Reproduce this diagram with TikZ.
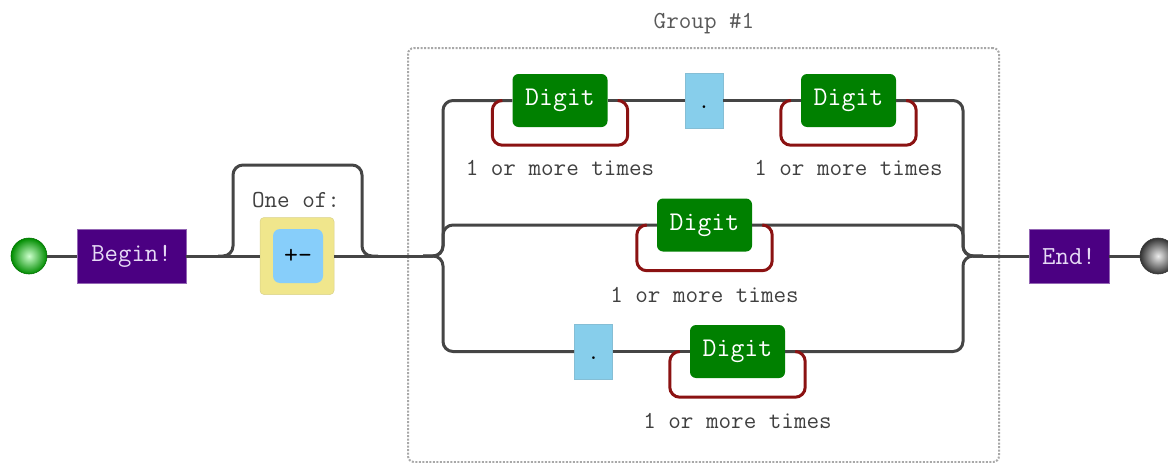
\documentclass[tikz,border=0pt]{standalone}
\usepackage{fontspec}
\usetikzlibrary{positioning, calc}
\definecolor{railgray}{HTML}{454545}
\definecolor{anchorpurple}{HTML}{4B0082}
\definecolor{anchortext}{HTML}{E6DAF5}
\definecolor{digitgreen}{HTML}{008000}
\definecolor{loopred}{HTML}{8B1212}
\definecolor{litblue}{HTML}{87CEEB}
\definecolor{clsyellow}{HTML}{F0E68C}
\definecolor{clsblue}{HTML}{87CEFA}
\definecolor{framegray}{HTML}{A8A8A8}

\begin{document}
\begin{tikzpicture}[
    x=1pt, y=-1pt,
    rail/.style={line width=3pt, draw=railgray, rounded corners=10pt},
    repeatloop/.style={line width=3pt, draw=loopred, rounded corners=10pt},
    anchorbox/.style={rectangle, fill=anchorpurple, draw=anchorpurple!60!white, line width=0.6pt, inner sep=0pt, minimum height=54pt, text=anchortext, font=\ttfamily\fontsize{26}{30}\selectfont},
    digitbox/.style={rectangle, rounded corners=6pt, fill=digitgreen, inner sep=0pt, minimum width=95pt, minimum height=53pt, text=white, font=\ttfamily\fontsize{27}{30}\selectfont},
    litbox/.style={rectangle, fill=litblue, draw=litblue!80!gray, line width=0.6pt, inner sep=0pt, minimum width=38pt, minimum height=55pt, text height=16pt, text depth=0pt, font=\ttfamily\fontsize{24}{28}\selectfont},
    lbl/.style={text=black!75, font=\ttfamily\fontsize{24.4}{28}\selectfont},
    ball/.style={circle, minimum size=36pt, inner sep=0pt, shading=radial, line width=0.6pt}
]
\useasboundingbox (0,0) rectangle (1168,463);

% group frame
\node[rectangle, draw=framegray, line width=2pt, dash pattern=on 2pt off 1.5pt, rounded corners=6pt, minimum width=591pt, minimum height=414pt] (grp) at (703.5,255) {};
\node[lbl, text=black!65] at (704,24) {Group \#1};

% ends
\node[ball, draw=green!45!black, inner color=green!20!white, outer color=green!55!black] (start) at (29,256) {};
\node[anchorbox, minimum width=109pt] (begin) at (131.5,256) {Begin!};
\node[anchorbox, minimum width=80pt] (end) at (1069,256) {End!};
\node[ball, draw=black!80, inner color=white!85!gray, outer color=black!80] (stop) at (1158,256) {};

% one of [+-]
\node[rectangle, rounded corners=4pt, fill=clsyellow, draw=clsyellow!80!gray, line width=0.5pt, minimum width=74pt, minimum height=77pt] (cls) at (297,256) {};
\node[rectangle, rounded corners=7pt, fill=clsblue, inner sep=0pt, minimum width=50pt, minimum height=54pt, font=\ttfamily\fontsize{27}{30}\selectfont] (clsin) at (298,256) {+-};
\node[lbl] at (296,200) {One of:};

% alternatives
\node[digitbox] (d1) at (560,100.5) {Digit};
\node[litbox] (dot1) at (704,100.5) {.};
\node[digitbox] (d2) at (848.5,100.5) {Digit};
\node[digitbox] (d3) at (704.5,225) {Digit};
\node[litbox] (dot2) at (593.5,351.5) {.};
\node[digitbox] (d4) at (737.5,351.5) {Digit};

\node[lbl] at ([yshift=-41pt]d1.south) {1 or more times};
\node[lbl] at ([yshift=-41pt]d2.south) {1 or more times};
\node[lbl] at ([yshift=-43pt]d3.south) {1 or more times};
\node[lbl] at ([yshift=-43pt]d4.south) {1 or more times};

\coordinate (skipin) at (218,256);
\coordinate (skipout) at (378,256);
\coordinate (split) at (423,256);
\coordinate (join) at (983,256);
\coordinate (lx) at (443,256);
\coordinate (rx) at (963,256);

% main rail
\draw[rail] (start.east) -- (begin.west);
\draw[rail] (begin.east) -- (cls.west);
\draw[rail] (cls.east) -- (split);
\draw[rail] (join) -- (end.west);
\draw[rail] (end.east) -- (stop.west);
\draw[rail] (skipin) -| (233,165) -| (362,256) -- (skipout);

% branches
\draw[rail] (split) -| (lx |- d1.west) -- (d1.west);
\draw[rail] (d1.east) -- (dot1.west);
\draw[rail] (dot1.east) -- (d2.west);
\draw[rail] (d2.east) -| (rx) -- (join);
\draw[rail] (split) -| (lx |- d3.west) -- (d3.west);
\draw[rail] (d3.east) -| (rx) -- (join);
\draw[rail] (split) -| (lx |- dot2.west) -- (dot2.west);
\draw[rail] (dot2.east) -- (d4.west);
\draw[rail] (d4.east) -| (rx) -- (join);

% repeat loops
\draw[repeatloop] ([xshift=-10pt]d1.west) -| ([xshift=-20pt,yshift=-18pt]d1.south west) -| ([xshift=20pt]d1.east) -- ([xshift=10pt]d1.east);
\draw[repeatloop] ([xshift=-10pt]d2.west) -| ([xshift=-20pt,yshift=-18pt]d2.south west) -| ([xshift=20pt]d2.east) -- ([xshift=10pt]d2.east);
\draw[repeatloop] ([xshift=-10pt]d3.west) -| ([xshift=-20pt,yshift=-19pt]d3.south west) -| ([xshift=20pt]d3.east) -- ([xshift=10pt]d3.east);
\draw[repeatloop] ([xshift=-10pt]d4.west) -| ([xshift=-20pt,yshift=-19pt]d4.south west) -| ([xshift=20pt]d4.east) -- ([xshift=10pt]d4.east);
\end{tikzpicture}
\end{document}
